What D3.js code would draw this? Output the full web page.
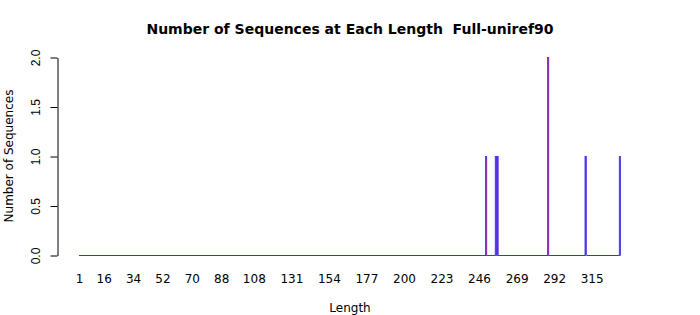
<!DOCTYPE html>
<html>
<head>
<meta charset="utf-8">
<script src="https://cdn.jsdelivr.net/npm/d3@7"></script>
<style>
  html, body { margin: 0; padding: 0; background: #fff; }
  svg { display: block; font-family: "DejaVu Sans", sans-serif; }
</style>
</head>
<body>
<svg id="chart" width="700" height="315"></svg>
<script>
// lengths observed on the x axis (one bar per length)
const minLength = 1;
const maxLength = 332;
// lengths that have sequences, and how many
const hitLengths = [250, 256, 257, 288, 311, 332];
const hitCounts  = [1, 1, 1, 2, 1, 1];
// labels R kept on the x axis
const xTickLabels = [1, 16, 34, 52, 70, 88, 108, 131, 154, 177, 200, 223, 246, 269, 292, 315];
const yTicks = [0, 0.5, 1, 1.5, 2];

const lengths = d3.range(minLength, maxLength + 1);
const countBy = new Map(hitLengths.map((l, i) => [l, hitCounts[i]]));
const data = lengths.map(l => ({ len: l, n: countBy.get(l) || 0 }));

const svg = d3.select('#chart');

const x = d3.scaleBand()
    .domain(lengths)
    .range([79, 620.6])
    .paddingInner(0.2 / 1.2)
    .paddingOuter(0);

const y = d3.scaleLinear().domain([0, 2]).range([255.5, 57.5]);

// empty lengths: only the bar border is left, which forms the blue baseline
svg.append('g')
    .selectAll('rect')
    .data(data.filter(d => d.n === 0))
    .join('rect')
    .attr('x', d => x(d.len))
    .attr('width', x.bandwidth() + 0.4)
    .attr('y', y(0) - 0.5)
    .attr('height', 1)
    .attr('fill', '#3333ff')
    .attr('shape-rendering', 'crispEdges');

// bars with sequences
svg.append('g')
    .selectAll('rect')
    .data(data.filter(d => d.n > 0))
    .join('rect')
    .attr('x', d => x(d.len))
    .attr('width', x.bandwidth())
    .attr('y', d => y(d.n))
    .attr('height', d => y(0) - y(d.n))
    .attr('fill', '#ff0020')
    .attr('stroke', '#3333ff')
    .attr('stroke-width', 0.75);

// y axis, R style
const yAxis = svg.append('g')
    .attr('transform', 'translate(57.5,0)')
    .call(d3.axisLeft(y).tickValues(yTicks).tickSize(7).tickSizeOuter(0).tickFormat(d3.format('.1f')));
yAxis.select('.domain').attr('stroke', '#000');
yAxis.selectAll('.tick line').attr('stroke', '#000');
yAxis.selectAll('.tick text')
    .attr('font-size', 12)
    .attr('fill', '#000')
    .attr('text-anchor', 'middle')
    .attr('x', 0)
    .attr('dy', 0)
    .attr('transform', 'translate(-17.5,0) rotate(-90)');

// x labels only (no axis line)
svg.append('g')
    .selectAll('text')
    .data(xTickLabels)
    .join('text')
    .attr('x', d => x(d) + x.bandwidth() / 2)
    .attr('y', 283)
    .attr('text-anchor', 'middle')
    .attr('font-size', 12)
    .text(d => d);

svg.append('text')
    .attr('x', 350).attr('y', 34)
    .attr('text-anchor', 'middle')
    .attr('font-size', 14)
    .attr('font-weight', 'bold')
    .style('white-space', 'pre')
    .text('Number of Sequences at Each Length  Full-uniref90');

svg.append('text')
    .attr('x', 350).attr('y', 312)
    .attr('text-anchor', 'middle')
    .attr('font-size', 12)
    .text('Length');

svg.append('text')
    .attr('transform', 'translate(13,156) rotate(-90)')
    .attr('text-anchor', 'middle')
    .attr('font-size', 12)
    .text('Number of Sequences');
</script>
</body>
</html>
